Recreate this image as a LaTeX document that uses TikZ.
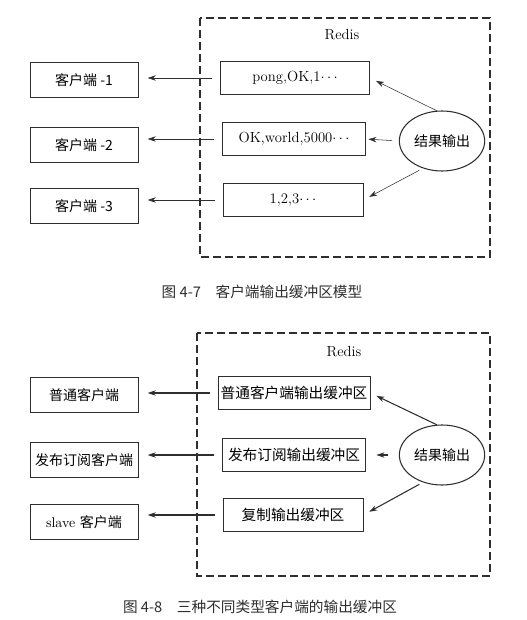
\documentclass[tikz,border=0pt]{standalone}
\usepackage{fontspec}
\newfontfamily\cjk{Noto Sans CJK SC}
\usepackage{tikz}
\usetikzlibrary{arrows.meta,shapes.geometric}
\definecolor{ink}{HTML}{2e2e2e}

\tikzset{
  cbox/.style={draw=ink, semithick, minimum width=81pt, minimum height=26pt, inner sep=1pt, font=\cjk\fontsize{10.5}{12}\selectfont},
  bbox/.style={draw=ink, semithick, minimum width=112pt, minimum height=25pt, inner sep=1pt, font=\fontsize{11}{12}\selectfont},
  blob/.style={draw=ink, thick, ellipse, minimum width=64pt, minimum height=45pt, inner sep=0pt, font=\cjk\fontsize{10.5}{12}\selectfont},
  redisbox/.style={draw=ink, thick, dash pattern=on 6pt off 3pt},
  harrow/.style={-{Stealth[length=6pt,width=4pt]}, ink},
}

\begin{document}
\begin{tikzpicture}[x=0.75pt, y=-0.75pt]
    \useasboundingbox (0,0) rectangle (526,620);
    \draw[redisbox] (200,18) rectangle (490,257);
    \node[font=\fontsize{11}{12}\selectfont] at(342,35)(r1){Redis};
    \node[cbox] at(84,80)(c1){客户端 -1};
    \node[cbox] at(84,145)(c2){客户端 -2};
    \node[cbox] at(84,206)(c3){客户端 -3};
    \node[bbox] at(295,78)(b1){pong,OK,1$\cdots$};
    \node[bbox, minimum width=107pt] at(294,139)(b2){OK,world,5000$\cdots$};
    \node[bbox, minimum width=105pt] at(293,200)(b3){1,2,3$\cdots$};
    \node[blob] at(442,141)(o1){结果输出};
    \draw[harrow, shorten <=6pt, shorten >=7pt] (b1.west) -- (b1.west -| c1.east);
    \draw[harrow, shorten <=6pt, shorten >=7pt] (b2.west) -- (b2.west -| c2.east);
    \draw[harrow, shorten <=6pt, shorten >=7pt] (b3.west) -- (b3.west -| c3.east);
    \draw[harrow, shorten >=5pt] (o1.100) -- (b1.east);
    \draw[harrow, shorten <=5pt, shorten >=2pt] (o1.west) -- (b2.east);
    \draw[harrow, shorten <=3pt, shorten >=5pt] (o1.235) -- (b3.east);
    \node[font=\cjk\fontsize{11}{12}\selectfont, text=ink] at(262,292)(t1){图 4-7\quad 客户端输出缓冲区模型};
    %
    \draw[redisbox] (197,333) rectangle (490,576);
    \node[font=\fontsize{11}{12}\selectfont] at(344,352)(r2){Redis};
    \node[cbox] at(84,395)(c4){普通客户端};
    \node[cbox] at(84,460)(c5){发布订阅客户端};
    \node[cbox] at(84,522)(c6){\rmfamily slave \cjk 客户端};
    \node[bbox, font=\cjk\fontsize{11}{12}\selectfont, minimum width=114pt] at(294,393)(b4){普通客户端输出缓冲区};
    \node[bbox, font=\cjk\fontsize{11}{12}\selectfont, minimum width=107pt] at(294,455)(b5){发布订阅输出缓冲区};
    \node[bbox, font=\cjk\fontsize{11}{12}\selectfont, minimum width=105pt] at(293,515)(b6){复制输出缓冲区};
    \node[blob] at(442,455)(o2){结果输出};
    \draw[harrow, thick, shorten <=6pt, shorten >=7pt] (b4.west) -- (b4.west -| c4.east);
    \draw[harrow, thick, shorten <=6pt, shorten >=7pt] (b5.west) -- (b5.west -| c5.east);
    \draw[harrow, thick, shorten <=6pt, shorten >=7pt] (b6.west) -- (b6.west -| c6.east);
    \draw[harrow, thick, shorten >=5pt] (o2.100) -- (b4.east);
    \draw[harrow, thick, shorten <=8pt, shorten >=8pt] (o2.west) -- (b5.east);
    \draw[harrow, thick, shorten <=3pt, shorten >=5pt] (o2.235) -- (b6.east);
    \node[font=\cjk\fontsize{11}{12}\selectfont, text=ink] at(260,607)(t2){图 4-8\quad 三种不同类型客户端的输出缓冲区};
\end{tikzpicture}
\end{document}
